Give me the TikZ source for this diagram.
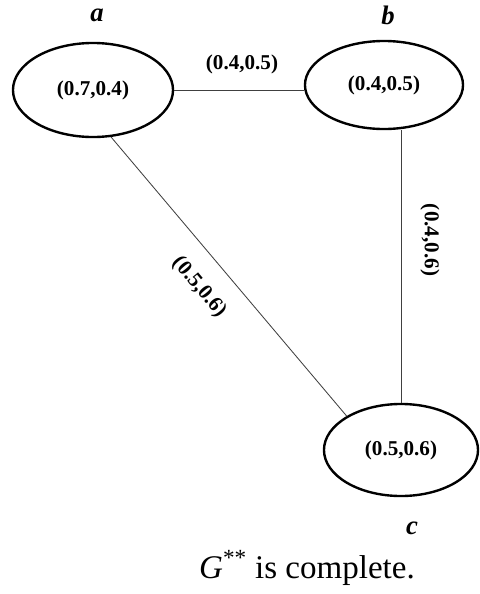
\documentclass[tikz,border=0pt]{standalone}
\usepackage{fontspec}
\setmainfont{Liberation Serif}
\usetikzlibrary{shapes.geometric}
\tikzset{fig/.style={line join=round},
 vtx/.style={ellipse,draw,line width=1.7pt,inner sep=0pt,font=\fontsize{15}{17}\selectfont\bfseries},
 edg/.style={draw=black!75,line width=0.6pt},
 wt/.style={font=\fontsize{15}{17}\selectfont\bfseries},
 nm/.style={font=\fontsize{19}{22}\selectfont\bfseries\itshape}}

\begin{document}
\begin{tikzpicture}[fig,x=0.025cm,y=-0.025cm]
 \useasboundingbox (0,0) rectangle (480,594);
 % vertices
 \node[vtx,minimum width=4.0cm,minimum height=2.35cm](a)at(93,90){(0.7,0.4)};
 \node[vtx,minimum width=3.95cm,minimum height=2.2cm](b)at(384,85){(0.4,0.5)};
 \node[vtx,minimum width=3.85cm,minimum height=2.3cm](c)at(401,450){(0.5,0.6)};
 \node[nm](la)at(97,15){a};
 \node[nm](lb)at(388,15){b};
 \node[nm](lc)at(412,528){c};
 % edges
 \draw[edg](a.east)--(a.east-|b.west);
 \draw[edg](c.north)--(c.north|-b.south);
 \draw[edg](a.-69)--(c.148);
 \node[wt](ab)at(242,64){(0.4,0.5)};
 \node[wt,rotate=-90](bc)at(430,240){(0.4,0.6)};
 \node[wt,rotate=-50](ac)at(199,287){(0.5,0.6)};
 \node[font=\fontsize{23.5}{27}\selectfont](cap)at(307,568){{\itshape G}\textsuperscript{**} is complete.};
\end{tikzpicture}
\end{document}
